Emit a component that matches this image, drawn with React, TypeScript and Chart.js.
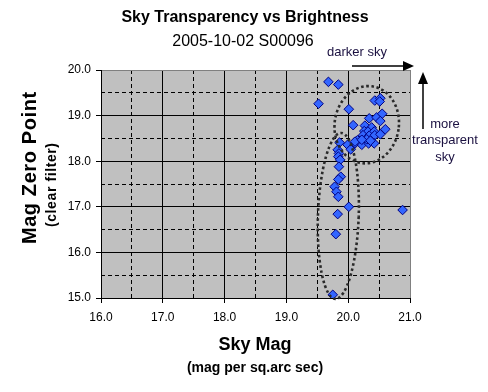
import React, { useEffect, useRef } from "react";
import { Chart, registerables } from "chart.js";

Chart.register(...registerables);

const FONT = "'Liberation Sans', Arial, sans-serif";

const skyMag = [
  19.68, 19.84, 19.52, 20.01, 20.43, 20.52, 20.51, 20.34, 20.46, 20.55,
  20.52, 20.08, 20.27, 20.38, 20.26, 20.32, 20.42, 20.6, 20.24, 20.34,
  20.43, 20.52, 20.11, 20.22, 20.33, 20.42, 19.86, 19.99, 20.04, 19.83,
  19.85, 19.84, 19.87, 19.85, 19.88, 19.84, 19.78, 19.81, 19.84, 20.01,
  19.83, 19.8, 19.75, 20.88, 20.3, 20.36, 20.15, 20.11, 20.22,
];
const zeroPoint = [
  19.74, 19.68, 19.26, 19.14, 19.33, 19.38, 19.31, 18.94, 18.96, 19.04,
  18.88, 18.79, 18.78, 18.74, 18.66, 18.65, 18.65, 18.7, 18.57, 18.56,
  18.57, 18.59, 18.39, 18.36, 18.39, 18.39, 18.41, 18.36, 18.26, 18.25,
  18.17, 18.1, 18.03, 17.88, 17.66, 17.6, 17.44, 17.33, 17.22, 17.0,
  16.84, 16.4, 15.07, 16.93, 18.48, 18.45, 18.46, 18.43, 18.47,
];

const xRange = [16, 21];
const yRange = [15, 20];

// dotted ellipse annotations in data units: centre x, centre y, semi-axes, tilt (deg)
const ellipseCx = [20.3, 19.84];
const ellipseCy = [18.8, 16.8];
const ellipseRx = [0.52, 0.33];
const ellipseRy = [0.85, 1.82];
const ellipseTilt = [8, 2];

const titleText = "Sky Transparency vs Brightness";
const subtitleText = "2005-10-02 S00096";
const yTitle = "Mag Zero Point";
const ySubTitle = "(clear filter)";
const xTitle = "Sky Mag";
const xSubTitle = "(mag per sq.arc sec)";
const noteTop = "darker sky";
const noteRight = ["more", "transparent", "sky"];

function spacedText(ctx: any, text: string, x: number, y: number, spacing: number) {
  ctx.letterSpacing = `${spacing}px`;
  ctx.fillText(text, x + spacing / 2, y);
  ctx.letterSpacing = "0px";
}

const decor = {
  id: "decor",
  beforeDraw(chart: any) {
    const { ctx, chartArea: a } = chart;
    ctx.save();
    ctx.fillStyle = "#c0c0c0";
    ctx.fillRect(a.left, a.top, a.right - a.left, a.bottom - a.top);
    ctx.restore();
  },
  afterDatasetsDraw(chart: any) {
    const { ctx } = chart;
    const xs = chart.scales.x;
    const ys = chart.scales.y;
    ctx.save();
    ctx.strokeStyle = "#2a2a2a";
    ctx.lineWidth = 2.6;
    ctx.setLineDash([2.6, 2.6]);
    for (let i = 0; i < ellipseCx.length; i++) {
      const cx = xs.getPixelForValue(ellipseCx[i]);
      const cy = ys.getPixelForValue(ellipseCy[i]);
      const rx = Math.abs(xs.getPixelForValue(ellipseCx[i] + ellipseRx[i]) - cx);
      const ry = Math.abs(ys.getPixelForValue(ellipseCy[i] + ellipseRy[i]) - cy);
      ctx.beginPath();
      ctx.ellipse(cx, cy, rx, ry, (ellipseTilt[i] * Math.PI) / 180, 0, Math.PI * 2);
      ctx.stroke();
    }
    ctx.restore();
  },
  afterDraw(chart: any) {
    const { ctx } = chart;
    ctx.save();
    ctx.fillStyle = "#000";
    ctx.textAlign = "center";
    ctx.textBaseline = "middle";
    ctx.font = `bold 16px ${FONT}`;
    ctx.fillText(titleText, 245, 18);
    ctx.font = `16px ${FONT}`;
    ctx.fillText(subtitleText, 243, 42);

    ctx.font = `bold 18px ${FONT}`;
    ctx.fillText(xTitle, 255, 345);
    ctx.font = `bold 14px ${FONT}`;
    ctx.fillText(xSubTitle, 255, 368);

    ctx.save();
    ctx.translate(30, 168);
    ctx.rotate(-Math.PI / 2);
    ctx.font = `bold 20px ${FONT}`;
    spacedText(ctx, yTitle, 0, 0, 0.6);
    ctx.restore();
    ctx.save();
    ctx.translate(52, 185);
    ctx.rotate(-Math.PI / 2);
    ctx.font = `bold 14px ${FONT}`;
    spacedText(ctx, ySubTitle, 0, 0, 0.6);
    ctx.restore();

    // annotations
    ctx.fillStyle = "#1a1040";
    ctx.font = `13px ${FONT}`;
    ctx.fillText(noteTop, 357, 52);
    noteRight.forEach((t, i) => ctx.fillText(t, 445, 124 + i * 16.5));

    ctx.strokeStyle = "#000";
    ctx.fillStyle = "#000";
    ctx.lineWidth = 1.5;
    ctx.beginPath();
    ctx.moveTo(352, 66);
    ctx.lineTo(404, 66);
    ctx.stroke();
    ctx.beginPath();
    ctx.moveTo(414, 66);
    ctx.lineTo(403, 61);
    ctx.lineTo(403, 71);
    ctx.closePath();
    ctx.fill();

    ctx.beginPath();
    ctx.moveTo(423, 129);
    ctx.lineTo(423, 82);
    ctx.stroke();
    ctx.beginPath();
    ctx.moveTo(423, 72);
    ctx.lineTo(418, 84);
    ctx.lineTo(428, 84);
    ctx.closePath();
    ctx.fill();
    ctx.restore();
  },
};

export default function App() {
  const ref = useRef<HTMLCanvasElement | null>(null);
  useEffect(() => {
    if (!ref.current) return;
    const tickFont = { family: FONT, size: 12 };
    const chart = new Chart(ref.current, {
      type: "scatter",
      data: {
        datasets: [
          {
            data: skyMag.map((x, i) => ({ x, y: zeroPoint[i] })),
            pointStyle: "rectRot",
            pointRadius: 4.8,
            backgroundColor: "#3366ff",
            borderColor: "#000080",
            borderWidth: 1,
          },
        ],
      },
      options: {
        animation: false,
        responsive: false,
        maintainAspectRatio: false,
        layout: { padding: { left: 0, top: 70, right: 78, bottom: 0 } },
        plugins: { legend: { display: false }, tooltip: { enabled: false } },
        scales: {
          x: {
            type: "linear",
            position: "bottom",
            min: xRange[0],
            max: xRange[1],
            ticks: {
              stepSize: 1,
              font: tickFont,
              color: "#000",
              padding: 7,
              callback: (v: any) => Number(v).toFixed(1),
            },
            grid: {
              color: (c: any) => (c.tick && c.tick.value === xRange[1] ? "#808080" : "#000"),
              tickColor: "#000",
              tickLength: 5,
              lineWidth: 1,
            },
            border: { color: "#000", width: 1 },
            afterFit: (s: any) => {
              s.height = 94;
            },
          },
          x2: {
            type: "linear",
            position: "top",
            min: xRange[0],
            max: xRange[1],
            ticks: { display: false, stepSize: 0.5 },
            grid: {
              color: (c: any) => (c.tick && !Number.isInteger(c.tick.value) ? "#000" : "rgba(0,0,0,0)"),
              drawTicks: false,
              lineWidth: 1,
            },
            border: { display: false, dash: [4, 3] },
            afterFit: (s: any) => {
              s.height = 0;
            },
          },
          y: {
            type: "linear",
            position: "left",
            min: yRange[0],
            max: yRange[1],
            ticks: {
              stepSize: 1,
              font: tickFont,
              color: "#000",
              padding: 5,
              callback: (v: any) => Number(v).toFixed(1),
            },
            grid: {
              color: (c: any) => (c.tick && c.tick.value === yRange[1] ? "#808080" : "#000"),
              tickColor: "#000",
              tickLength: 5,
              lineWidth: 1,
            },
            border: { color: "#000", width: 1 },
            afterFit: (s: any) => {
              s.width = 101;
            },
          },
          y2: {
            type: "linear",
            position: "right",
            min: yRange[0],
            max: yRange[1],
            ticks: { display: false, stepSize: 0.5 },
            grid: {
              color: (c: any) => (c.tick && !Number.isInteger(c.tick.value) ? "#000" : "rgba(0,0,0,0)"),
              drawTicks: false,
              lineWidth: 1,
            },
            border: { display: false, dash: [4, 3] },
            afterFit: (s: any) => {
              s.width = 0;
            },
          },
        },
      } as any,
      plugins: [decor],
    });
    return () => chart.destroy();
  }, []);
  return (
    <div style={{ position: "absolute", left: 0, top: 0, width: 488, height: 392, background: "#fff" }}>
      <canvas ref={ref} width={488} height={392} style={{ width: 488, height: 392, display: "block" }} />
    </div>
  );
}
